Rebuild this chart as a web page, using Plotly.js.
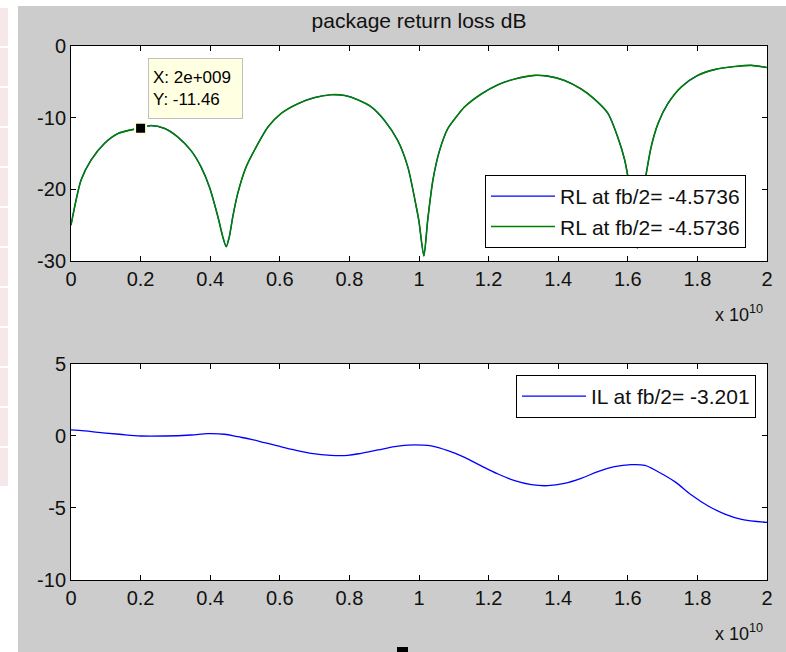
<!DOCTYPE html>
<html>
<head>
<meta charset="utf-8">
<script src="https://cdn.plot.ly/plotly-3.0.1.min.js"></script>
<style>
  html, body { margin: 0; padding: 0; background: #ffffff; width: 786px; height: 652px; overflow: hidden; }
  #chart { position: absolute; left: 18px; top: 6px; width: 768px; height: 646px; }
  .cell { position: absolute; left: 0; width: 8px; height: 38px; background: #f6e8e8; }
  #cursor { position: absolute; left: 397px; top: 647px; width: 11px; height: 6px; background: #000; }
</style>
</head>
<body>
<div id="cells"></div>
<div id="chart"></div>
<div id="cursor"></div>
<script>
// ---- data (frequency in units of 1e10 Hz) ----
const freqRL = [0, 0.029, 0.058, 0.096, 0.135, 0.197, 0.23, 0.269, 0.307, 0.345, 0.374, 0.398, 0.422, 0.436, 0.446,
  0.455, 0.465, 0.479, 0.503, 0.532, 0.566, 0.604, 0.652, 0.70, 0.747, 0.786, 0.824, 0.863, 0.901, 0.939, 0.968,
  0.992, 1.0, 1.014, 1.025, 1.04, 1.059, 1.083, 1.107, 1.131, 1.179, 1.227, 1.275, 1.332, 1.37, 1.418, 1.466,
  1.504, 1.543, 1.571, 1.591, 1.605, 1.619, 1.627, 1.638, 1.653, 1.667, 1.687, 1.715, 1.754, 1.801, 1.849,
  1.907, 1.955, 2.0];
const rlDb = [-25.0, -18.7, -15.9, -13.6, -12.2, -11.46, -11.1, -11.5, -12.7, -14.6, -16.9, -19.7, -23.8, -26.6, -28.0,
  -26.6, -23.8, -20.6, -16.9, -14.1, -11.3, -9.4, -8.05, -7.2, -6.8, -6.9, -7.5, -8.5, -10.4, -13.2, -16.9,
  -22.4, -24.5, -29.3, -24.3, -18.7, -14.6, -11.5, -9.9, -8.5, -6.7, -5.4, -4.6, -4.1, -4.2, -4.8, -6.0,
  -7.4, -9.4, -12.7, -15.9, -19.7, -25.2, -28.2, -22.4, -17.8, -14.1, -10.8, -8.05, -5.7, -4.1, -3.3,
  -2.86, -2.7, -3.0];
const freqIL = [0, 0.039, 0.087, 0.139, 0.201, 0.269, 0.345, 0.393, 0.441, 0.479, 0.518, 0.556, 0.594, 0.642, 0.69,
  0.747, 0.795, 0.834, 0.882, 0.93, 0.968, 1.011, 1.035, 1.083, 1.131, 1.179, 1.227, 1.275, 1.323, 1.37, 1.418,
  1.466, 1.514, 1.562, 1.61, 1.649, 1.687, 1.735, 1.783, 1.831, 1.879, 1.927, 2.0];
const ilDb = [0.42, 0.35, 0.23, 0.12, 0.0, 0.0, 0.07, 0.16, 0.12, -0.05, -0.23, -0.46, -0.69, -0.97, -1.2,
  -1.34, -1.34, -1.2, -0.97, -0.74, -0.63, -0.63, -0.69, -1.02, -1.48, -2.08, -2.64, -3.1, -3.38, -3.45, -3.29,
  -2.94, -2.48, -2.13, -1.99, -2.04, -2.48, -3.17, -4.1, -4.86, -5.42, -5.79, -6.0];
const tipX = [0.2];
const tipY = [-11.46];
const rlLabel = 'RL at fb/2= -4.5736';
const ilLabel = 'IL at fb/2= -3.201';
const xTicks = [0, 0.2, 0.4, 0.6, 0.8, 1, 1.2, 1.4, 1.6, 1.8, 2];
const xTickText = ['0', '0.2', '0.4', '0.6', '0.8', '1', '1.2', '1.4', '1.6', '1.8', '2'];
const rlTicks = [-30, -20, -10, 0];
const rlTickText = ['-30', '-20', '-10', '0'];
const ilTicks = [-10, -5, 0, 5];
const ilTickText = ['-10', '-5', '0', '5'];

// decorative strip at the left edge
const cells = document.getElementById('cells');
for (let i = 0; i < 12; i++) {
  const d = document.createElement('div');
  d.className = 'cell';
  d.style.top = (8 + i * 40) + 'px';
  cells.appendChild(d);
}

const FONT = 'Liberation Sans, Arial, sans-serif';
const traces = [
  { x: freqRL, y: rlDb, xaxis: 'x', yaxis: 'y', mode: 'lines', name: rlLabel, legend: 'legend',
    line: { color: '#0000ff', width: 1.2, shape: 'spline', smoothing: 0.7 } },
  { x: freqRL, y: rlDb, xaxis: 'x', yaxis: 'y', mode: 'lines', name: rlLabel, legend: 'legend',
    line: { color: '#008000', width: 1.6, shape: 'spline', smoothing: 0.7 } },
  { x: tipX, y: tipY, xaxis: 'x', yaxis: 'y', mode: 'markers', showlegend: false,
    marker: { symbol: 'square', size: 11, color: '#000000', line: { color: '#ffffe0', width: 2 } } },
  { x: freqIL, y: ilDb, xaxis: 'x2', yaxis: 'y2', mode: 'lines', name: ilLabel, legend: 'legend2',
    line: { color: '#0000ff', width: 1.3, shape: 'spline', smoothing: 1 } }
];

const axisCommon = {
  showline: true, linecolor: '#000000', linewidth: 1, mirror: 'ticks',
  ticks: 'inside', ticklen: 5, tickwidth: 1, tickcolor: '#000000',
  showgrid: false, zeroline: false,
  tickfont: { family: FONT, size: 20, color: '#111111' }
};

const layout = {
  width: 768, height: 646,
  paper_bgcolor: '#cccccc', plot_bgcolor: '#ffffff',
  margin: { l: 53, r: 19, t: 40, b: 72 },
  font: { family: FONT, size: 20, color: '#000000' },
  title: { text: 'package return loss dB', font: { family: FONT, size: 21, color: '#111111' },
    xref: 'paper', x: 0.5, xanchor: 'center', yref: 'container', y: 0.977, yanchor: 'middle' },
  xaxis: Object.assign({}, axisCommon, { domain: [0, 1], anchor: 'y', range: [0, 2],
    tickvals: xTicks, ticktext: xTickText }),
  yaxis: Object.assign({}, axisCommon, { domain: [0.5974, 1], anchor: 'x', range: [-30, 0],
    tickvals: rlTicks, ticktext: rlTickText }),
  xaxis2: Object.assign({}, axisCommon, { domain: [0, 1], anchor: 'y2', range: [0, 2],
    tickvals: xTicks, ticktext: xTickText }),
  yaxis2: Object.assign({}, axisCommon, { domain: [0, 0.4045], anchor: 'x2', range: [-10, 5],
    tickvals: ilTicks, ticktext: ilTickText }),
  legend: { x: 0.9698, xanchor: 'right', y: 0.7584, yanchor: 'top', bgcolor: '#ffffff',
    bordercolor: '#000000', borderwidth: 1, itemwidth: 64,
    font: { family: FONT, size: 21, color: '#111111' } },
  legend2: { x: 0.9842, xanchor: 'right', y: 0.3839, yanchor: 'top', bgcolor: '#ffffff',
    bordercolor: '#000000', borderwidth: 1, itemwidth: 64,
    font: { family: FONT, size: 21, color: '#111111' } },
  showlegend: true,
  annotations: [
    { xref: 'x', yref: 'y', x: tipX[0], y: tipY[0], xanchor: 'left', yanchor: 'bottom',
      xshift: 7, yshift: 9, showarrow: false, align: 'left', width: 85, height: 51,
      text: 'X: 2e+009<br>Y: -11.46', bgcolor: '#ffffe1', bordercolor: '#c0c0c0', borderwidth: 1, borderpad: 4,
      font: { family: FONT, size: 17, color: '#000000' } },
    { xref: 'paper', yref: 'paper', x: 0.997, y: 0.5, xanchor: 'right', yanchor: 'middle', showarrow: false,
      text: 'x 10<sup>10</sup>', font: { family: FONT, size: 18, color: '#111111' } },
    { xref: 'paper', yref: 'paper', x: 0.997, y: -0.0974, xanchor: 'right', yanchor: 'middle', showarrow: false,
      text: 'x 10<sup>10</sup>', font: { family: FONT, size: 18, color: '#111111' } }
  ]
};

Plotly.newPlot('chart', traces, layout, { displayModeBar: false, staticPlot: true });
</script>
</body>
</html>
